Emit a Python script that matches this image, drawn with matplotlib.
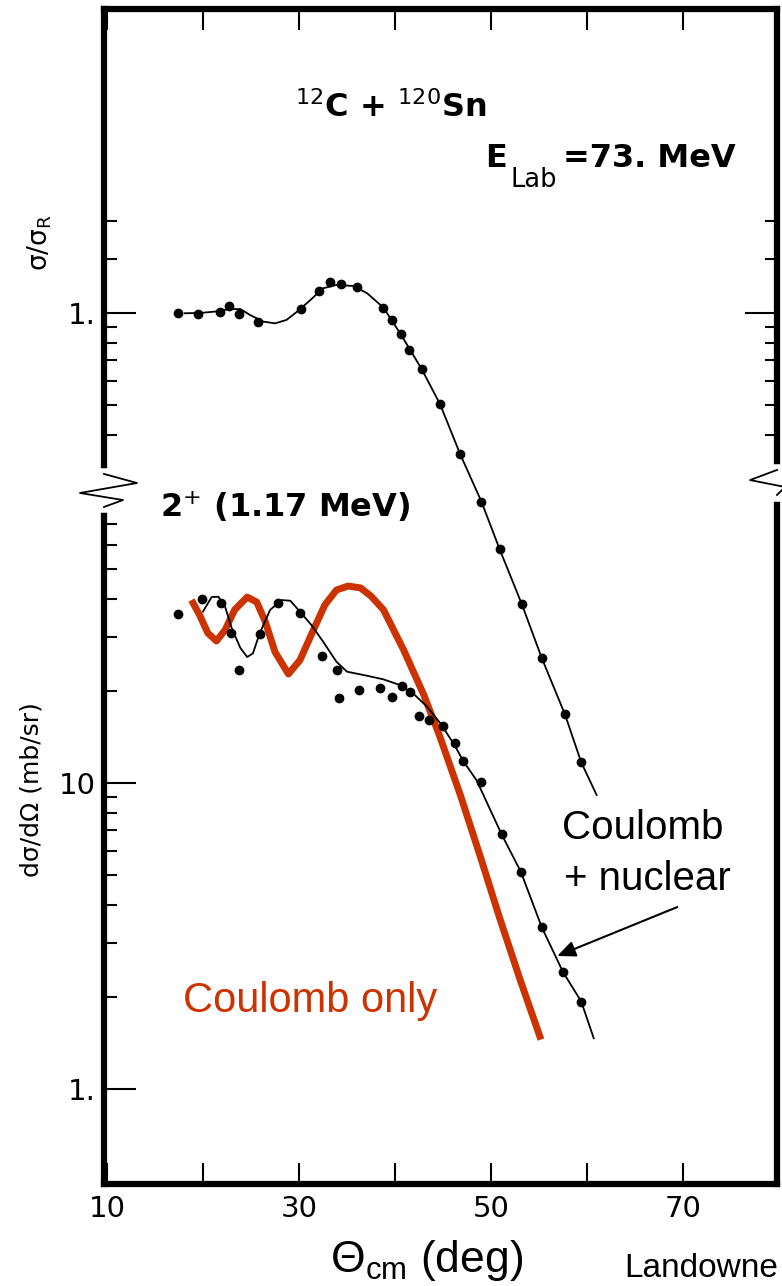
import matplotlib.pyplot as plt
from matplotlib.ticker import NullFormatter

# elastic scattering, ratio to Rutherford (upper panel)
theta_el = [17.4, 19.5, 21.8, 22.7, 23.8, 25.7, 30.2, 32.1, 33.2, 34.4, 36.0, 38.8,
            39.7, 40.6, 41.5, 42.8, 44.7, 46.8, 49.0, 50.9, 53.2, 55.3, 57.7, 59.4]
ratio_el = [1.00, 0.99, 1.005, 1.054, 0.99, 0.932, 1.03, 1.18, 1.26, 1.244, 1.219, 1.041,
            0.949, 0.852, 0.757, 0.654, 0.503, 0.345, 0.242, 0.169, 0.112, 0.0744, 0.0488, 0.034]
fit_el_theta = [18.1, 19.7, 21.3, 22.8, 23.9, 24.9, 26.3, 27.5, 28.7, 29.8, 31.2, 32.5, 33.9,
                35.7, 37.1, 38.8, 40.6, 42.8, 44.7, 46.8, 49.0, 50.9, 53.2, 55.3, 57.7, 59.4, 61.0]
fit_el = [0.998, 1.0, 1.011, 1.03, 1.03, 0.985, 0.937, 0.925, 0.949, 1.01, 1.103, 1.204, 1.235,
          1.225, 1.16, 1.041, 0.852, 0.654, 0.503, 0.345, 0.242, 0.169, 0.112, 0.0744, 0.0488, 0.034, 0.0266]

# 2+ (1.17 MeV) inelastic cross section, mb/sr (lower panel)
theta_in = [17.4, 19.9, 21.9, 22.9, 23.8, 25.9, 27.8, 30.1, 32.4, 34.0, 34.2, 36.2, 38.4, 39.7,
            40.7, 41.6, 42.5, 43.5, 45.0, 46.2, 47.1, 49.0, 51.1, 53.1, 55.3, 57.5, 59.4]
xs_in = [35.6, 39.8, 38.7, 31.0, 23.4, 30.7, 38.7, 36.0, 25.9, 23.4, 19.0, 20.2, 20.5, 19.1,
         20.8, 19.8, 16.6, 16.1, 15.4, 13.5, 11.8, 10.05, 6.8, 5.13, 3.37, 2.41, 1.93]

# Coulomb + nuclear calculation
cn_theta = [20.0, 20.9, 21.6, 22.3, 23.0, 23.9, 24.6, 25.2, 25.9, 27.0, 28.2, 29.1, 30.1, 31.3,
            32.5, 33.9, 35.0, 37.1, 38.8, 40.5, 41.9, 43.3, 44.7, 46.2, 47.1, 48.5, 51.1, 53.1,
            55.3, 57.5, 59.4, 60.7]
cn_xs = [36.3, 40.5, 40.6, 37.7, 32.0, 27.6, 25.8, 26.5, 30.8, 36.8, 39.6, 39.4, 36.3, 32.8,
         29.0, 24.9, 23.1, 22.4, 21.8, 20.9, 19.6, 17.8, 15.7, 13.3, 11.8, 10.2, 6.8, 5.13,
         3.37, 2.41, 1.93, 1.465]

# Coulomb only calculation
c_theta = [18.8, 19.7, 20.5, 21.4, 22.3, 23.3, 24.6, 25.6, 26.5, 27.5, 28.9, 30.1, 31.5, 32.7,
           33.9, 35.1, 36.4, 37.5, 38.8, 40.9, 43.0, 44.7, 46.8, 48.9, 50.9, 53.0, 55.2]
c_xs = [39.6, 35.1, 30.9, 29.1, 31.6, 36.8, 40.5, 39.0, 33.6, 26.8, 22.7, 25.2, 31.6, 38.2,
        42.7, 44.0, 43.4, 40.8, 36.8, 27.2, 19.4, 14.1, 9.14, 5.73, 3.62, 2.29, 1.45]

red = '#cc3300'

plt.rcParams['font.family'] = ['DejaVu Sans']
plt.rcParams['mathtext.fontset'] = 'custom'
plt.rcParams['mathtext.rm'] = 'Liberation Sans'
plt.rcParams['mathtext.it'] = 'Liberation Sans:italic'
plt.rcParams['mathtext.bf'] = 'Liberation Sans:bold'

fig = plt.figure(figsize=(7.82, 12.86), dpi=100)
ax = fig.add_axes([104 / 782, 102 / 1286, 673 / 782, 1175 / 1286])

# lower scale: dsigma/dOmega
ax.set_yscale('log')
ax.set_xlim(9.69, 79.79)
ax.set_ylim(0.489, 3383)
ax.set_xticks([10, 20, 30, 40, 50, 60, 70], ['10', '', '30', '', '50', '', '70'])
ax.set_yticks([1, 10], ['1.', '10'])
ax.set_yticks([2, 3, 4, 5, 6, 7, 8, 9, 20, 30, 40, 50, 60, 70], minor=True)
ax.yaxis.set_minor_formatter(NullFormatter())
ax.yaxis.set_ticks_position('both')
ax.tick_params(axis='x', direction='in', top=True, length=15, width=1.5, labelsize=21, pad=8)
ax.tick_params(axis='y', which='major', direction='in', length=23, width=1.5, labelsize=21, pad=6)
ax.tick_params(axis='y', which='minor', direction='in', length=9, width=1.5)
for s in ax.spines.values():
    s.set_linewidth(4.5)

ax.plot(c_theta, c_xs, color=red, lw=5, solid_capstyle='butt', zorder=3)
ax.plot(cn_theta, cn_xs, color='black', lw=1.3, zorder=4)
ax.plot(theta_in, xs_in, 'o', color='black', ms=6, zorder=5)

# upper scale: sigma/sigma_R, same decade size
ax2 = ax.twinx()
ax2.set_yscale('log')
ax2.set_ylim(0.001424, 9.85)
ax2.set_yticks([1], ['1.'])
ax2.set_yticks([0.4, 0.5, 0.6, 0.7, 0.8, 0.9, 1.5, 2], minor=True)
ax2.yaxis.set_minor_formatter(NullFormatter())
ax2.yaxis.set_ticks_position('both')
ax2.tick_params(axis='y', which='major', direction='in', length=23, width=1.5, labelsize=21, pad=6,
                labelleft=True, labelright=False)
ax2.tick_params(axis='y', which='minor', direction='in', length=9, width=1.5)
for s in ax2.spines.values():
    s.set_visible(False)

ax2.plot(fit_el_theta, fit_el, color='black', lw=1.3)
ax2.plot(theta_el, ratio_el, 'o', color='black', ms=6)

# axis breaks
tr = ax2.transAxes
ax2.plot([0, 0], [0.577, 0.604], color='white', lw=9, transform=tr, clip_on=False, zorder=10)
ax2.plot([0, 0.049, -0.0357, 0.0282, 0], [0.6043, 0.5966, 0.5881, 0.5821, 0.5762],
         color='black', lw=1.3, transform=tr, clip_on=False, zorder=11)
ax2.plot([1, 1], [0.5864, 0.6077], color='white', lw=9, transform=tr, clip_on=False, zorder=10)
ax2.plot([1, 0.960, 1.012, 1], [0.6077, 0.5991, 0.5932, 0.5864],
         color='black', lw=1.3, transform=tr, clip_on=False, zorder=11)

# labels
ax2.text(29.6, 4.37, '$^{12}$C + $^{120}$Sn', fontsize=23, fontweight='bold',
         math_fontfamily='dejavusans')
ax2.text(49.4, 3.0, 'E', fontsize=23, fontweight='bold')
ax2.text(52.0, 2.58, 'Lab', fontsize=18.5)
ax2.text(57.5, 3.0, '=73. MeV', fontsize=23, fontweight='bold')
ax.text(15.5, 74.0, '2$^{+}$ (1.17 MeV)', fontsize=23, fontweight='bold',
        math_fontfamily='dejavusans')
ax.text(57.4, 6.56, 'Coulomb', fontsize=29, family='Liberation Sans')
ax.text(57.6, 4.47, '+ nuclear', fontsize=29, family='Liberation Sans')
ax.text(17.9, 1.79, 'Coulomb only', fontsize=30, family='Liberation Sans', color=red)
ax.annotate('', xy=(56.9, 2.72), xytext=(69.4, 3.93),
            arrowprops=dict(arrowstyle='-|>,head_length=0.5,head_width=0.22', color='black',
                            lw=1.5, mutation_scale=22, shrinkA=0, shrinkB=0))

fig.text(40 / 782, 1 - 243 / 1286, 'σ/σ$_{\\mathrm{R}}$', fontsize=19, rotation=90,
         ha='center', va='center', math_fontfamily='dejavusans')
fig.text(32 / 782, 1 - 790 / 1286, 'dσ/dΩ (mb/sr)', fontsize=18, rotation=90,
         ha='center', va='center')
fig.text(330 / 782, 1 - 1272 / 1286, 'Θ$_{\\mathrm{cm}}$ (deg)', fontsize=32,
         family='Liberation Sans', va='baseline')
fig.text(624 / 782, 1 - 1277 / 1286, 'Landowne', fontsize=24, family='Liberation Sans',
         va='baseline')

fig.savefig('out.png', dpi=100)
